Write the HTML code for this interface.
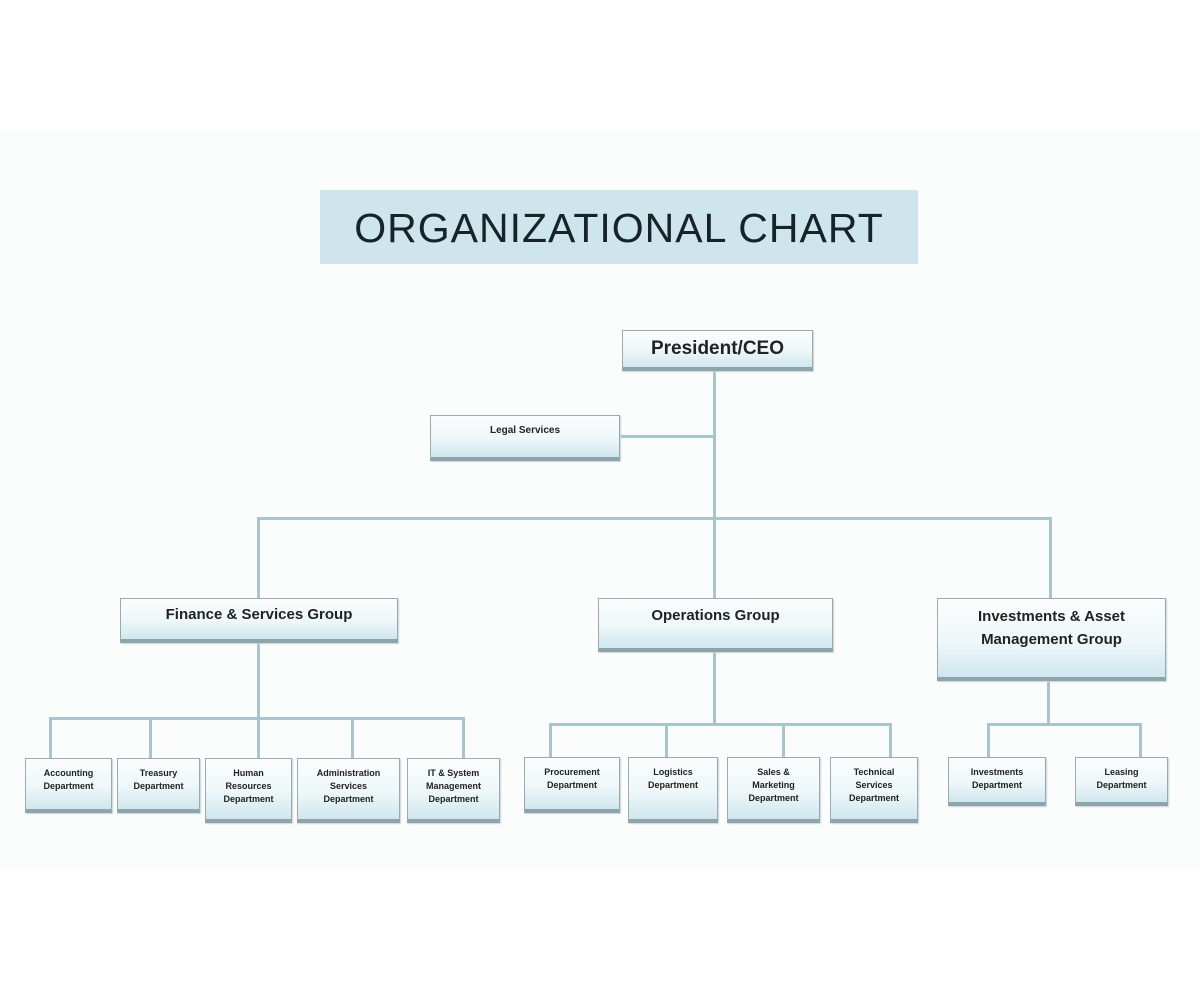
<!DOCTYPE html><html><head><style>
body{margin:0;width:1200px;height:981px;background:#fff;position:relative;overflow:hidden;font-family:"Liberation Sans",sans-serif}
.bg{position:absolute;left:0;top:130px;width:1200px;height:740px;background:#fbfdfd}
.b{position:absolute;box-sizing:border-box;border:1px solid #9aaab0;border-bottom:4px solid #8fa3aa;background:linear-gradient(#fbfdfe 0%,#eef7f9 55%,#cfe7ee 100%);text-align:center;font-weight:bold;color:#222;box-shadow:1px 1px 1px #c8d4d8}
.s{font-size:9px;line-height:13px;padding-top:8px}
.l{position:absolute;background:#a8c4cc}
</style></head><body>
<div class="bg"></div>
<div style="position:absolute;left:320px;top:190px;width:598px;height:74px;background:#cfe5ec;text-align:center;font-size:41px;line-height:76px;color:#16242a;letter-spacing:1px">ORGANIZATIONAL CHART</div>

<div class="l" style="left:713px;top:370px;width:3px;height:228px"></div>
<div class="l" style="left:620px;top:435px;width:95px;height:3px"></div>
<div class="l" style="left:257px;top:517px;width:795px;height:3px"></div>
<div class="l" style="left:257px;top:517px;width:3px;height:82px"></div>
<div class="l" style="left:1049px;top:517px;width:3px;height:82px"></div>
<div class="l" style="left:257px;top:642px;width:3px;height:116px"></div>
<div class="l" style="left:49px;top:717px;width:416px;height:3px"></div>
<div class="l" style="left:49px;top:717px;width:3px;height:41px"></div>
<div class="l" style="left:149px;top:717px;width:3px;height:41px"></div>
<div class="l" style="left:351px;top:717px;width:3px;height:41px"></div>
<div class="l" style="left:462px;top:717px;width:3px;height:41px"></div>
<div class="l" style="left:713px;top:651px;width:3px;height:74px"></div>
<div class="l" style="left:549px;top:723px;width:343px;height:3px"></div>
<div class="l" style="left:549px;top:723px;width:3px;height:34px"></div>
<div class="l" style="left:665px;top:723px;width:3px;height:34px"></div>
<div class="l" style="left:782px;top:723px;width:3px;height:34px"></div>
<div class="l" style="left:889px;top:723px;width:3px;height:34px"></div>
<div class="l" style="left:1047px;top:680px;width:3px;height:45px"></div>
<div class="l" style="left:987px;top:723px;width:155px;height:3px"></div>
<div class="l" style="left:987px;top:723px;width:3px;height:34px"></div>
<div class="l" style="left:1139px;top:723px;width:3px;height:34px"></div>

<div class="b" style="left:622px;top:330px;width:191px;height:41px;font-size:19px;line-height:36px">President/CEO</div>
<div class="b" style="left:430px;top:415px;width:190px;height:46px;font-size:10px;line-height:30px">Legal Services</div>
<div class="b" style="left:120px;top:598px;width:278px;height:45px;font-size:15px;line-height:32px">Finance &amp; Services Group</div>
<div class="b" style="left:598px;top:598px;width:235px;height:54px;font-size:15px;line-height:34px">Operations Group</div>
<div class="b" style="left:937px;top:598px;width:229px;height:83px;font-size:15px;line-height:23px;padding-top:6px">Investments &amp; Asset<br>Management Group</div>

<div class="b s" style="left:25px;top:758px;width:87px;height:55px">Accounting<br>Department</div>
<div class="b s" style="left:117px;top:758px;width:83px;height:55px">Treasury<br>Department</div>
<div class="b s" style="left:205px;top:758px;width:87px;height:65px">Human<br>Resources<br>Department</div>
<div class="b s" style="left:297px;top:758px;width:103px;height:65px">Administration<br>Services<br>Department</div>
<div class="b s" style="left:407px;top:758px;width:93px;height:65px">IT &amp; System<br>Management<br>Department</div>
<div class="b s" style="left:524px;top:757px;width:96px;height:56px">Procurement<br>Department</div>
<div class="b s" style="left:628px;top:757px;width:90px;height:66px">Logistics<br>Department</div>
<div class="b s" style="left:727px;top:757px;width:93px;height:66px">Sales &amp;<br>Marketing<br>Department</div>
<div class="b s" style="left:830px;top:757px;width:88px;height:66px">Technical<br>Services<br>Department</div>
<div class="b s" style="left:948px;top:757px;width:98px;height:49px">Investments<br>Department</div>
<div class="b s" style="left:1075px;top:757px;width:93px;height:49px">Leasing<br>Department</div>
</body></html>
